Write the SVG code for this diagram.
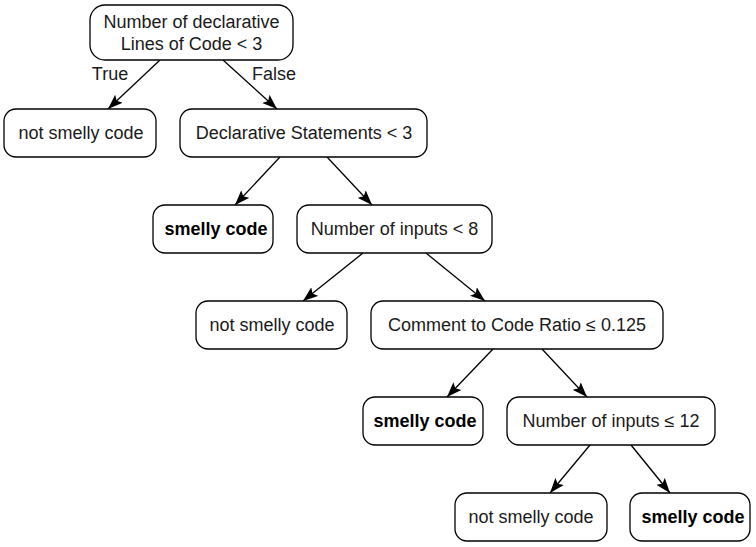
<svg xmlns="http://www.w3.org/2000/svg" width="756" height="547" viewBox="0 0 756 547">
<style>
.n rect{fill:#fff;stroke:#000;stroke-width:1.3}
.n text{font-family:"Liberation Sans",Arial,sans-serif;font-size:18px;fill:#1a1a1a;text-anchor:middle}
.b text{font-weight:bold;fill:#000}
.e line{stroke:#000;stroke-width:1.3;marker-end:url(#ar)}
.lbl{font-family:"Liberation Sans",Arial,sans-serif;font-size:18px;fill:#1a1a1a;text-anchor:middle}
</style>
<defs>
<marker id="ar" markerUnits="userSpaceOnUse" markerWidth="16" markerHeight="12" refX="15" refY="6" orient="auto">
<path d="M0,0.5 L15,6 L0,11.5 L3,6 Z" fill="#000"/>
</marker>
</defs>
<rect width="756" height="547" fill="#fff"/>
<g id="edges" class="e">
<line x1="160" y1="60" x2="108" y2="109"/>
<line x1="223" y1="60" x2="277" y2="109"/>
<line x1="280" y1="157" x2="235" y2="205"/>
<line x1="327" y1="157" x2="372" y2="205"/>
<line x1="363" y1="253" x2="303" y2="301"/>
<line x1="426" y1="253" x2="485" y2="301"/>
<line x1="493" y1="349" x2="447" y2="397"/>
<line x1="542" y1="349" x2="587" y2="397"/>
<line x1="590" y1="445" x2="550" y2="493"/>
<line x1="631" y1="445" x2="670" y2="493"/>
<text class="lbl" x="110" y="80">True</text>
<text class="lbl" x="274" y="80">False</text>
</g>
<g id="n1" class="n"><rect x="90" y="5" width="203" height="55" rx="15"/><text x="191.5" y="28">Number of declarative</text><text x="191.5" y="50">Lines of Code &lt; 3</text></g>
<g id="n2" class="n"><rect x="4" y="109" width="152" height="48" rx="12"/><text x="81" y="139">not smelly code</text></g>
<g id="n3" class="n"><rect x="180" y="109" width="247" height="48" rx="12"/><text x="304" y="139">Declarative Statements &lt; 3</text></g>
<g id="n4" class="n b"><rect x="153" y="205" width="120" height="48" rx="12"/><text x="216" y="235">smelly code</text></g>
<g id="n5" class="n"><rect x="297" y="205" width="195" height="48" rx="12"/><text x="394.5" y="235">Number of inputs &lt; 8</text></g>
<g id="n6" class="n"><rect x="196" y="301" width="151" height="48" rx="12"/><text x="272" y="331">not smelly code</text></g>
<g id="n7" class="n"><rect x="371" y="301" width="292" height="48" rx="12"/><text x="517" y="331">Comment to Code Ratio ≤ 0.125</text></g>
<g id="n8" class="n b"><rect x="363" y="397" width="120" height="48" rx="12"/><text x="425" y="427">smelly code</text></g>
<g id="n9" class="n"><rect x="507" y="397" width="208" height="48" rx="12"/><text x="611" y="427">Number of inputs ≤ 12</text></g>
<g id="n10" class="n"><rect x="455" y="493" width="152" height="48" rx="12"/><text x="531" y="523">not smelly code</text></g>
<g id="n11" class="n b"><rect x="630" y="493" width="120" height="48" rx="12"/><text x="693" y="523">smelly code</text></g>
</svg>
